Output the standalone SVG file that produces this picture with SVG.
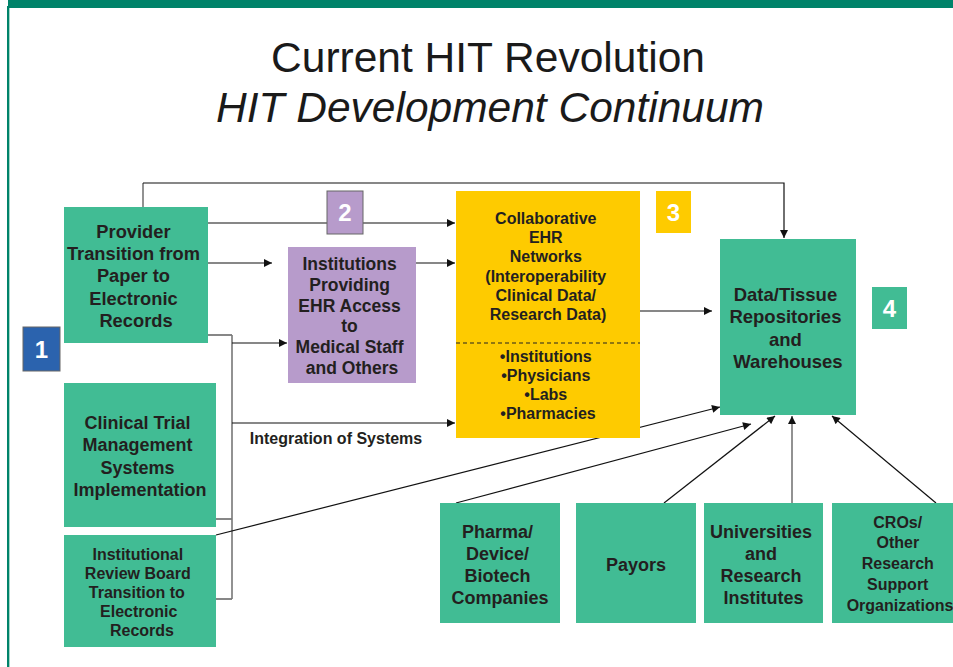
<svg xmlns="http://www.w3.org/2000/svg" width="953" height="667" viewBox="0 0 953 667">
  <defs>
    <marker id="arrow" viewBox="0 0 10 10" refX="10" refY="5" markerWidth="9" markerHeight="8" markerUnits="userSpaceOnUse" orient="auto">
      <path d="M0,0 L10,5 L0,10 z" fill="#111"/>
    </marker>
    <style>
      .green { fill: #41BC94; }
      .purple { fill: #B79BCB; }
      .yellow { fill: #FECB00; }
      .lbl { font-family: "Liberation Sans", Arial, sans-serif; font-weight: bold; fill: #231F20; text-anchor: middle; }
      .num { font-family: "Liberation Sans", Arial, sans-serif; font-weight: bold; fill: #ffffff; text-anchor: middle; font-size: 24px; }
      .title { font-family: "Liberation Sans", Arial, sans-serif; fill: #1a1a1a; text-anchor: middle; font-size: 42.5px; }
      .ln { fill: none; stroke: #111; stroke-width: 1.2; }
      .gln { fill: none; stroke: #777; stroke-width: 1.6; }
    </style>
  </defs>

  <rect width="953" height="667" fill="#ffffff"/>

  <!-- frame: top band and left rule -->
  <rect x="8" y="0" width="945" height="8" fill="#00836A"/>
  <rect x="7" y="6" width="2.2" height="661" fill="#00836A"/>
  <rect x="9.2" y="8" width="0.8" height="659" fill="#9ED3C4"/>

  <!-- heading -->
  <text class="title" x="488" y="72">Current HIT Revolution</text>
  <text class="title" x="490" y="122" font-style="italic">HIT Development Continuum</text>

  <!-- connectors -->
  <g id="connectors">
    <path class="gln" d="M143,207 V183"/>
    <path class="ln" d="M143,183 H784 V238" marker-end="url(#arrow)"/>
    <path class="ln" d="M208,223 H455" marker-end="url(#arrow)"/>
    <path class="ln" d="M208,263 H272" marker-end="url(#arrow)"/>
    <path class="ln" d="M416,263 H455" marker-end="url(#arrow)"/>
    <path class="ln" d="M208,335 H232 M216,519 H232 M216,599 H232"/>
    <path class="gln" d="M232,335 V599"/>
    <path class="ln" d="M232,343 H287" marker-end="url(#arrow)"/>
    <path class="ln" d="M232,423 H455" marker-end="url(#arrow)"/>
    <path class="ln" d="M640,311 H712" marker-end="url(#arrow)"/>
    <path class="ln" d="M216,535 L720,407" marker-end="url(#arrow)"/>
    <path class="ln" d="M456,503 L751,424" marker-end="url(#arrow)"/>
    <path class="ln" d="M664,503 L775,416" marker-end="url(#arrow)"/>
    <path class="gln" d="M792,503 V416" marker-end="url(#arrow)"/>
    <path class="ln" d="M936,503 L832,416" marker-end="url(#arrow)"/>
  </g>

  <!-- stage markers -->
  <g id="stage1">
    <rect x="23" y="327" width="37" height="44" fill="#2B63AE" stroke="#666" stroke-width="1"/>
    <text class="num" x="41.5" y="357.5">1</text>
  </g>
  <g id="stage2">
    <rect x="327" y="191" width="36" height="43" class="purple" stroke="#666" stroke-width="1"/>
    <text class="num" x="345" y="221">2</text>
  </g>
  <g id="stage3">
    <rect x="656" y="191" width="35" height="42" class="yellow"/>
    <text class="num" x="673.5" y="220.5">3</text>
  </g>
  <g id="stage4">
    <rect x="872" y="287" width="35" height="42" class="green"/>
    <text class="num" x="889.5" y="316.5">4</text>
  </g>

  <!-- stage 1 nodes -->
  <g id="provider">
    <rect x="64" y="207" width="144" height="136" class="green"/>
    <text class="lbl" font-size="18.3" x="136" y="238">
      <tspan x="136">Provider</tspan>
      <tspan x="136" dy="22.2">Transition from</tspan>
      <tspan x="136" dy="22.2">Paper to</tspan>
      <tspan x="136" dy="22.2">Electronic</tspan>
      <tspan x="136" dy="22.2">Records</tspan>
    </text>
  </g>
  <g id="ctms">
    <rect x="64" y="383" width="152" height="144" class="green"/>
    <text class="lbl" font-size="18" x="140" y="429">
      <tspan x="140">Clinical Trial</tspan>
      <tspan x="140" dy="22.3">Management</tspan>
      <tspan x="140" dy="22.3">Systems</tspan>
      <tspan x="140" dy="22.3">Implementation</tspan>
    </text>
  </g>
  <g id="irb">
    <rect x="64" y="535" width="152" height="112" class="green"/>
    <text class="lbl" font-size="16" x="140" y="559.5">
      <tspan x="140">Institutional</tspan>
      <tspan x="140" dy="19">Review Board</tspan>
      <tspan x="139" dy="19">Transition to</tspan>
      <tspan x="141" dy="19">Electronic</tspan>
      <tspan x="142" dy="19">Records</tspan>
    </text>
  </g>

  <!-- stage 2 node -->
  <g id="institutions">
    <rect x="288" y="247" width="128" height="136" class="purple"/>
    <text class="lbl" font-size="17.5" x="352" y="270">
      <tspan x="352">Institutions</tspan>
      <tspan x="352" dy="20.8">Providing</tspan>
      <tspan x="352" dy="20.8">EHR Access</tspan>
      <tspan x="352" dy="20.8">to</tspan>
      <tspan x="352" dy="20.8">Medical Staff</tspan>
      <tspan x="352" dy="20.8">and Others</tspan>
    </text>
  </g>

  <text class="lbl" font-size="16" x="336" y="443.5">Integration of Systems</text>

  <!-- stage 3 node -->
  <g id="networks">
    <rect x="456" y="191" width="184" height="247" class="yellow"/>
    <line x1="456" y1="343" x2="640" y2="343" stroke="#222" stroke-width="1" stroke-dasharray="4,3"/>
    <text class="lbl" font-size="16" x="548" y="224">
      <tspan x="548">Collaborative</tspan>
      <tspan x="548" dy="19.2">EHR</tspan>
      <tspan x="548" dy="19.2">Networks</tspan>
      <tspan x="548" dy="19.2">(Interoperability</tspan>
      <tspan x="548" dy="19.2">Clinical Data/</tspan>
      <tspan x="548" dy="19.2">Research Data)</tspan>
    </text>
    <text class="lbl" font-size="16" x="548" y="361.5">
      <tspan x="548">•Institutions</tspan>
      <tspan x="548" dy="19.3">•Physicians</tspan>
      <tspan x="548" dy="19.3">•Labs</tspan>
      <tspan x="548" dy="19.3">•Pharmacies</tspan>
    </text>
  </g>

  <!-- stage 4 node -->
  <g id="repositories">
    <rect x="720" y="239" width="136" height="176" class="green"/>
    <text class="lbl" font-size="18.5" x="788" y="300.5">
      <tspan x="788">Data/Tissue</tspan>
      <tspan x="788" dy="22.5">Repositories</tspan>
      <tspan x="788" dy="22.5">and</tspan>
      <tspan x="788" dy="22.5">Warehouses</tspan>
    </text>
  </g>

  <!-- contributors -->
  <g id="pharma">
    <rect x="440" y="503" width="120" height="120" class="green"/>
    <text class="lbl" font-size="18" x="500" y="537.5">
      <tspan x="500">Pharma/</tspan>
      <tspan x="500" dy="22.3">Device/</tspan>
      <tspan x="500" dy="22.3">Biotech</tspan>
      <tspan x="500" dy="22.3">Companies</tspan>
    </text>
  </g>
  <g id="payors">
    <rect x="576" y="503" width="120" height="120" class="green"/>
    <text class="lbl" font-size="18" x="636" y="570.5">Payors</text>
  </g>
  <g id="universities">
    <rect x="704" y="503" width="119" height="120" class="green"/>
    <text class="lbl" font-size="18" x="763.5" y="537.5">
      <tspan x="763.5">Universities</tspan>
      <tspan x="763.5" dy="22.3">and</tspan>
      <tspan x="763.5" dy="22.3">Research</tspan>
      <tspan x="763.5" dy="22.3">Institutes</tspan>
    </text>
  </g>
  <g id="cros">
    <rect x="832" y="503" width="140" height="120" class="green"/>
    <text class="lbl" font-size="16" x="900" y="527.5">
      <tspan x="900">CROs/</tspan>
      <tspan x="900" dy="20.8">Other</tspan>
      <tspan x="900" dy="20.8">Research</tspan>
      <tspan x="900" dy="20.8">Support</tspan>
      <tspan x="900" dy="20.8">Organizations</tspan>
    </text>
  </g>
</svg>
